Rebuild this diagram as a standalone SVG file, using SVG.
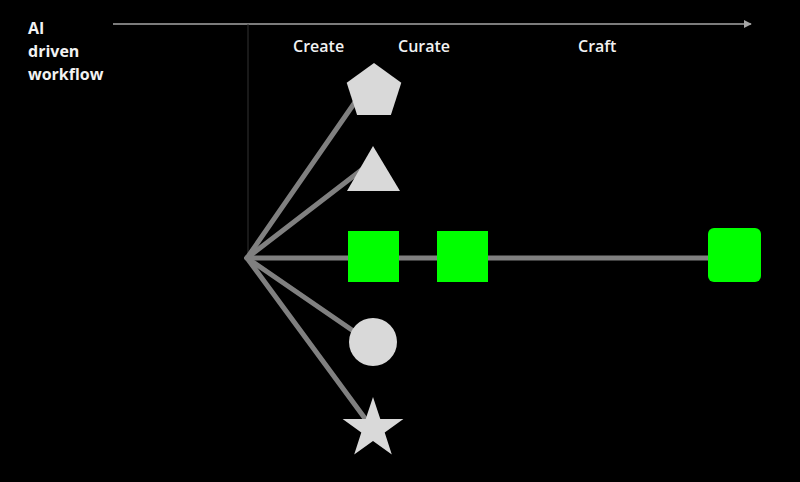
<svg xmlns="http://www.w3.org/2000/svg" width="800" height="482" viewBox="0 0 800 482">
<defs>
<style>
.lbl{font-family:"Open Sans","Liberation Sans",sans-serif;font-weight:600;font-size:16px;fill:#f2f2f2}
.ttl{font-family:"Open Sans","Liberation Sans",sans-serif;font-weight:700;font-size:16px;fill:#f2f2f2}
.spoke{stroke:#808080;stroke-width:5;fill:none;stroke-linecap:round}
.shape{fill:#d9d9d9}
.green{fill:#00ff00}
</style>
<marker id="arr" viewBox="0 0 10 10" refX="9" refY="5" markerWidth="8" markerHeight="8" markerUnits="userSpaceOnUse" orient="auto">
<path d="M0,0 L10,5 L0,10 z" fill="#a6a6a6"/>
</marker>
</defs>
<rect width="800" height="482" fill="#000"/>
<g id="title">
<text class="ttl" x="28" y="34">AI</text>
<text class="ttl" x="28" y="57">driven</text>
<text class="ttl" x="28" y="80">workflow</text>
</g>
<g id="axis">
<line x1="113" y1="24" x2="751" y2="24" stroke="#a6a6a6" stroke-width="1.5" marker-end="url(#arr)"/>
<line x1="248" y1="24" x2="248" y2="258" stroke="#333" stroke-width="1"/>
</g>
<g id="labels">
<text class="lbl" x="293" y="52">Create</text>
<text class="lbl" x="398" y="52">Curate</text>
<text class="lbl" x="578" y="52">Craft</text>
</g>
<g id="connectors">
<line class="spoke" x1="247" y1="258" x2="360" y2="95"/>
<line class="spoke" x1="247" y1="258" x2="368" y2="165"/>
<line class="spoke" x1="247" y1="258" x2="720" y2="258"/>
<line class="spoke" x1="247" y1="258" x2="365" y2="339"/>
<line class="spoke" x1="247" y1="258" x2="372" y2="428"/>
</g>
<g id="pentagon"><polygon class="shape" points="374,63 401.3,82.8 390.9,114.9 357.1,114.9 346.7,82.8"/></g>
<g id="triangle"><polygon class="shape" points="373,146 400,191 347,191"/></g>
<g id="square1"><rect class="green" x="348" y="231" width="51" height="51"/></g>
<g id="square2"><rect class="green" x="437" y="231" width="51" height="51"/></g>
<g id="square3"><rect class="green" x="708" y="228" width="53" height="54" rx="6"/></g>
<g id="circle"><circle class="shape" cx="373" cy="342" r="24"/></g>
<g id="star"><polygon class="shape" points="373,397 380.3,419 403.4,419 384.7,432.5 391.8,454.6 373,441 354.2,454.6 361.3,432.5 342.6,419 365.7,419"/></g>
</svg>
